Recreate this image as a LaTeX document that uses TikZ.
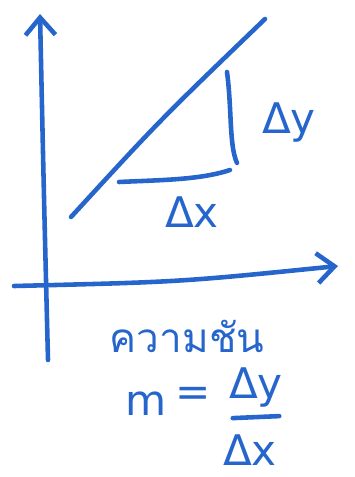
\documentclass[tikz,border=0pt]{standalone}
\usepackage{fontspec}
\setmainfont{DejaVu Sans}
\newfontfamily\thaifont[Script=Thai]{Loma}
\usepackage{xcolor}
\usepackage{tikz}
\usetikzlibrary{arrows.meta,positioning,calc}

\definecolor{pen}{RGB}{38,102,204}

\begin{document}
\begin{tikzpicture}[x={(0.02cm,0)},y={(0,-0.02cm)},
  ink/.style={pen,line width=2.6pt,line cap=round,line join=round},
  lbl/.style={pen,inner sep=0pt,font=\fontsize{24}{28}\selectfont},
  barb/.style={-{Straight Barb[length=0.35cm,width=0.6cm,line width=2.6pt]}}]
  \useasboundingbox (0,0) rectangle (355,477);
  % axes
  \coordinate (yfoot) at (48,360);
  \coordinate (ytip) at (40,14);
  \coordinate (xfoot) at (14,286);
  \coordinate (xtip) at (338,266);
  \draw[ink,barb] (yfoot) .. controls (44,200) .. (ytip);
  \draw[ink,barb] (xfoot) .. controls (180,282) .. (xtip);
  % the line
  \coordinate (lstart) at (71,217);
  \coordinate (lend) at (265,19);
  \draw[ink] (lstart) .. controls (160,120) .. (lend);
  % triangle legs
  \coordinate (vtop) at (227,72);
  \coordinate (vbot) at (237,163);
  \coordinate (hleft) at (119,182);
  \coordinate (hright) at (230,170);
  \draw[ink] (vtop) .. controls (232,110) and (229,145) .. (vbot);
  \draw[ink] (hleft) .. controls (160,180) and (200,180) .. (hright);
  \node[lbl] (dy) at (289,123) {Δy};
  \node[lbl] (dx) at (192,212) {Δx};
  % slope
  \node[lbl,font=\thaifont\fontsize{23}{26}\selectfont] (slope) at (187,336) {ความชัน};
  \node[lbl] (m) at (146,404) {m};
  \node[lbl] (eq) at (193,397) {=};
  \node[lbl] (num) at (256,388) {Δy};
  \node[lbl] (den) at (250,450) {Δx};
  \draw[ink] ($(num.south west)+(4,10)$) -- ($(num.south east)+(-4,8)$);
\end{tikzpicture}
\end{document}
